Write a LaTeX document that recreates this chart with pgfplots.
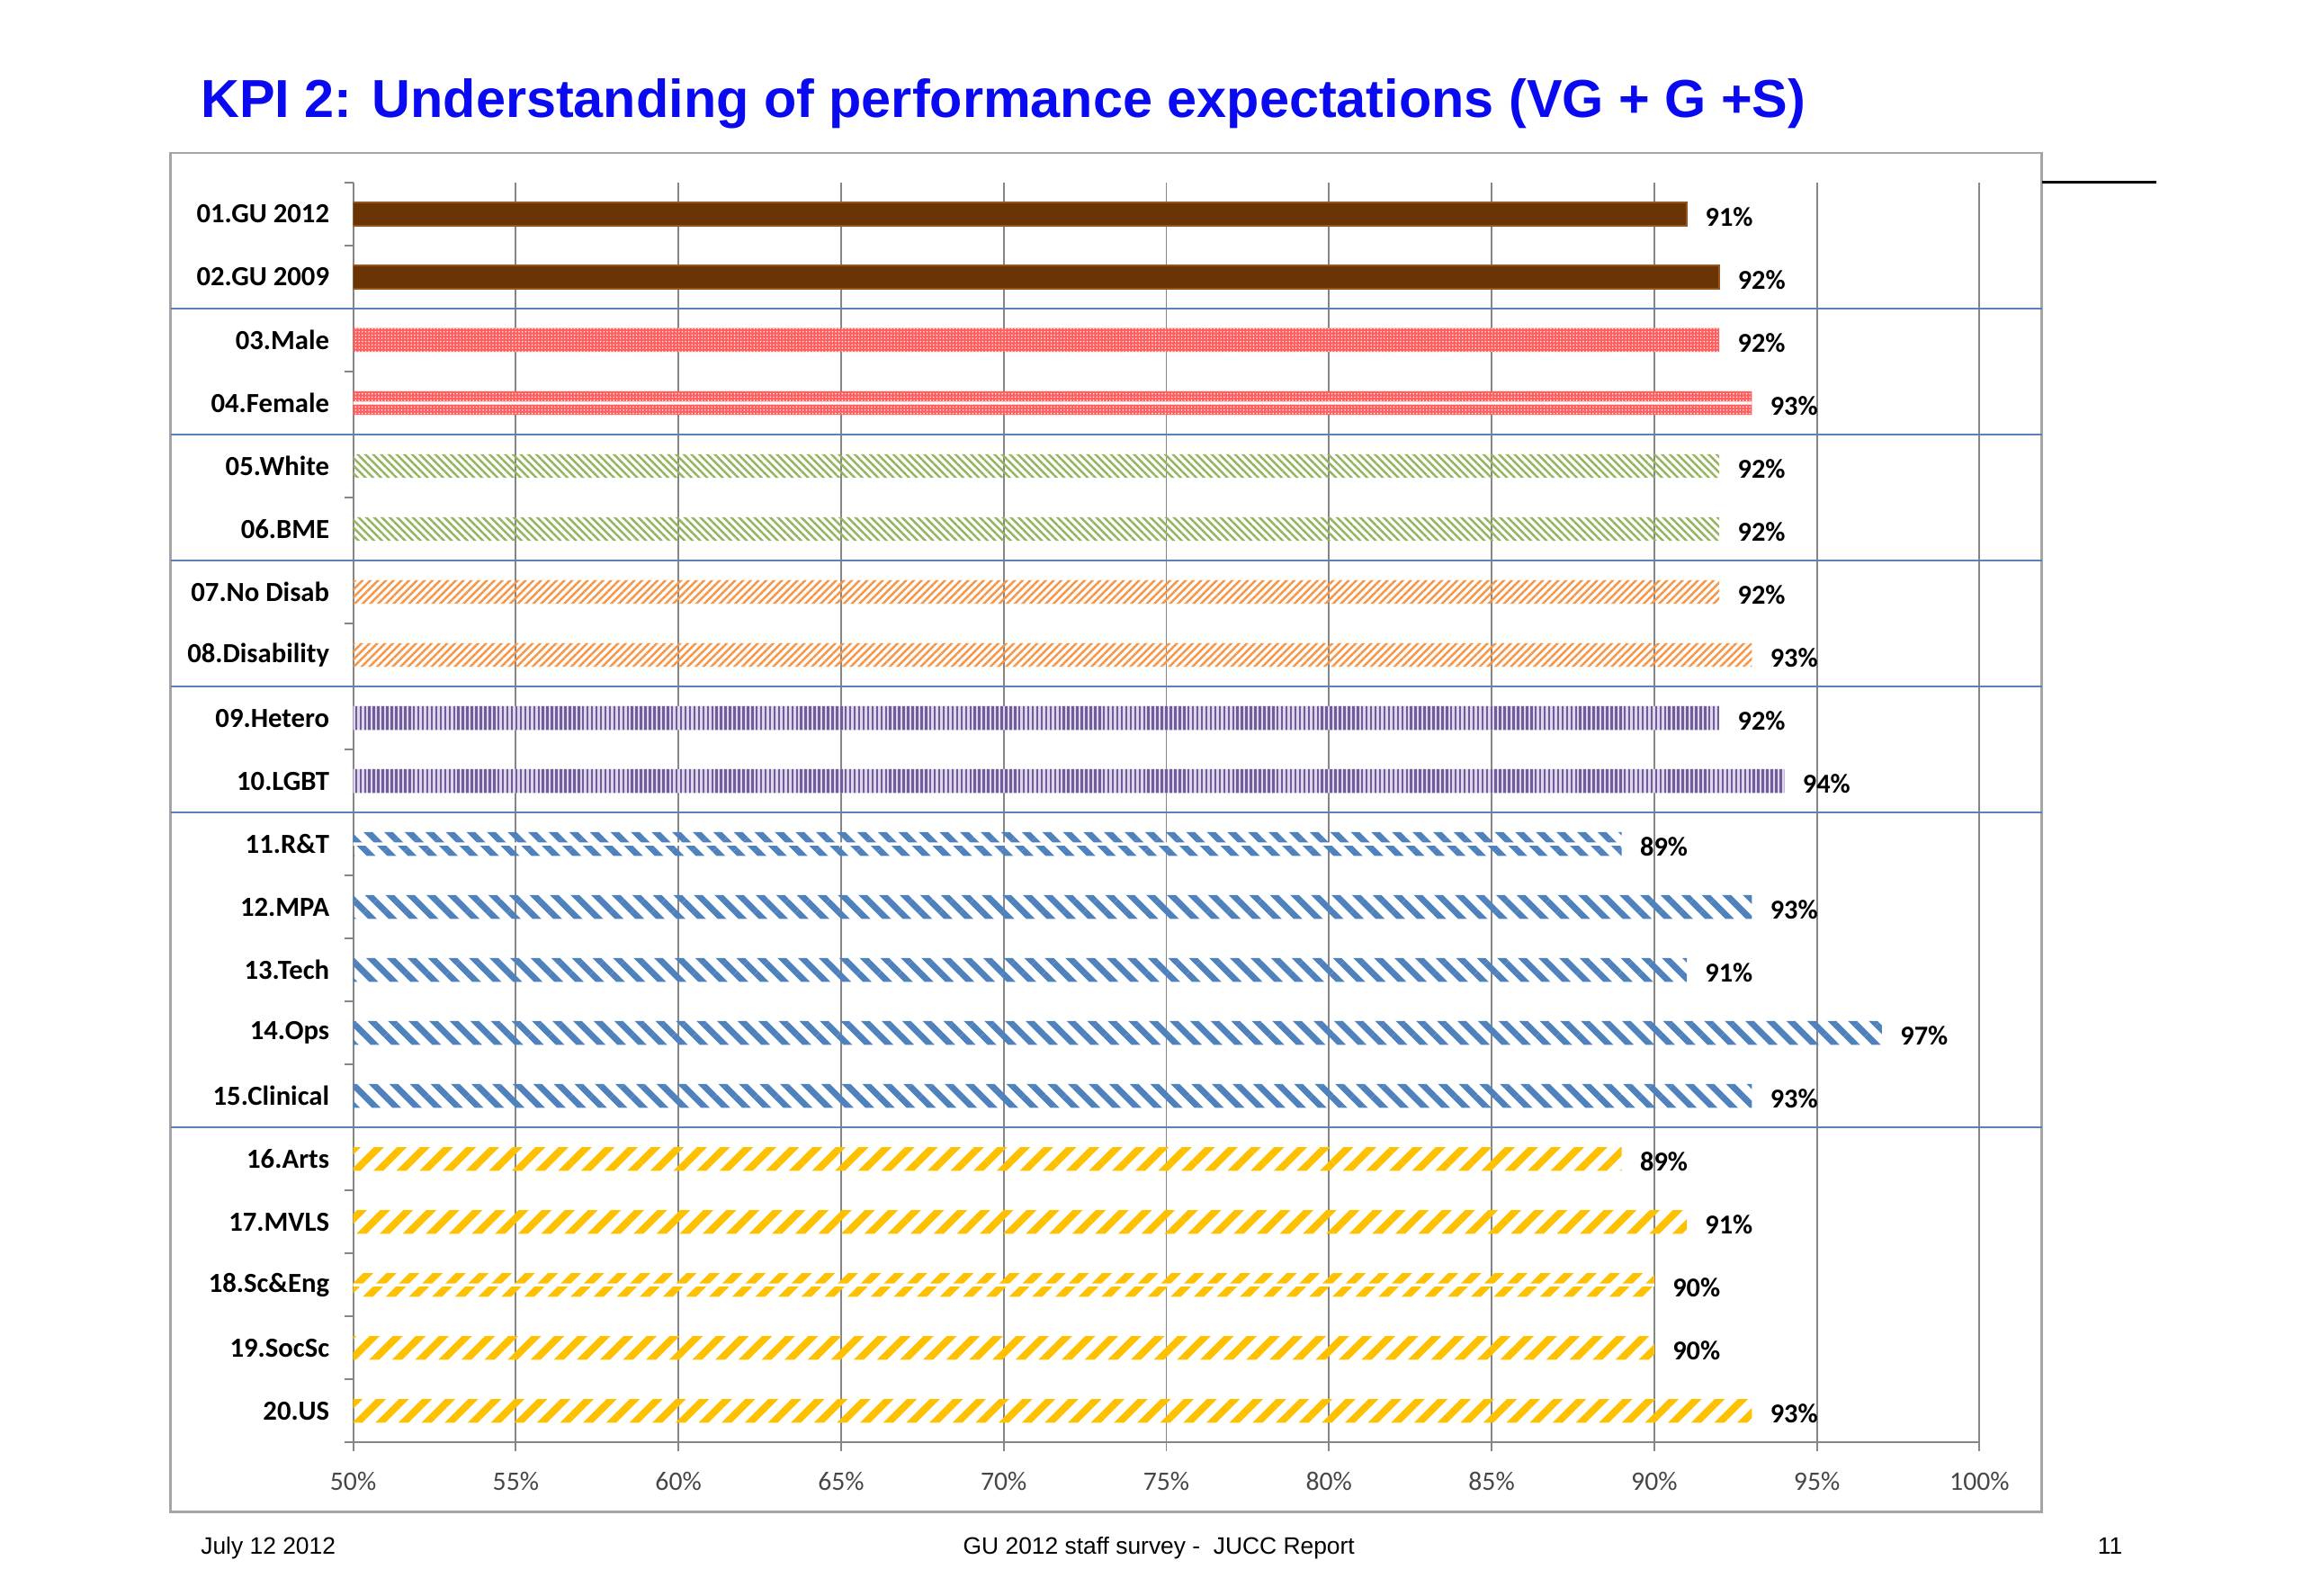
\documentclass[border=0pt]{standalone}
\usepackage{pgfplots}
\pgfplotsset{compat=1.18}
\usetikzlibrary{patterns,patterns.meta,calc}
\usepackage{fontspec}
\setmainfont{Carlito}
\newfontfamily\arialfont{Liberation Sans}
\definecolor{brownbar}{RGB}{106,52,4}
\definecolor{brownedge}{RGB}{150,85,30}
\definecolor{redbar}{RGB}{255,95,95}
\definecolor{greenbar}{RGB}{150,180,95}
\definecolor{orangebar}{RGB}{247,150,70}
\definecolor{purplebar}{RGB}{112,92,152}
\definecolor{purplebg}{RGB}{222,214,236}
\definecolor{bluebar}{RGB}{79,129,189}
\definecolor{goldbar}{RGB}{255,192,0}
\definecolor{sepblue}{RGB}{90,130,185}
\definecolor{gridgray}{RGB}{134,134,134}
\definecolor{framegray}{RGB}{165,165,165}
\definecolor{titleblue}{RGB}{10,10,240}
\definecolor{ticktext}{RGB}{70,70,70}
\pgfplotsset{vals/.style={nodes near coords={\pgfmathprintnumber{\pgfplotspointmeta}\%}, point meta=x,
  every node near coord/.append style={font=\bfseries\fontsize{9.2}{10}\selectfont, text=black, anchor=west, inner sep=0pt, xshift=6pt, yshift=-1pt}}}
\begin{document}
\begin{tikzpicture}
\path[use as bounding box] (0,0) rectangle (776pt,537.5pt);
\draw[framegray, line width=0.8pt] (57.5pt,28pt) rectangle (688pt,486pt);
\draw[black, line width=0.9pt] (688pt,476pt) -- (726.5pt,476pt);
\node[anchor=base west, inner sep=0pt, font=\arialfont\bfseries\fontsize{18}{20}\selectfont, text=titleblue] at (67.5pt,498pt) {KPI 2: Understanding of performance expectations (VG + G +S)};
\begin{axis}[
  at={(119pt,51.5pt)}, anchor=south west,
  scale only axis, width=548pt, height=424.5pt,
  xmin=50, xmax=100, ymin=0.5, ymax=20.5, y dir=reverse,
  axis x line=bottom, axis y line=left,
  axis line style={-, gridgray, line width=0.6pt},
  xtick={50,55,...,100},
  xticklabel={\pgfmathprintnumber{\tick}\%},
  xticklabel style={font=\fontsize{9}{10}\selectfont, text=ticktext, yshift=-3.5pt},
  /pgf/number format/assume math mode=true,
  xmajorgrids, major grid style={gridgray, line width=0.6pt},
  tick align=outside, major tick length=3pt,
  tick style={gridgray, line width=0.6pt},
  ytick={0.5,1.5,...,20.5}, yticklabel=\empty,
  extra y ticks={1,2,3,4,5,6,7,8,9,10,11,12,13,14,15,16,17,18,19,20},
  extra y tick labels={01.GU 2012,02.GU 2009,03.Male,04.Female,05.White,06.BME,07.No Disab,08.Disability,09.Hetero,10.LGBT,11.R\&T,12.MPA,13.Tech,14.Ops,15.Clinical,16.Arts,17.MVLS,18.Sc\&Eng,19.SocSc,20.US},
  extra y tick style={tick style={draw=none}},
  yticklabel style={font=\bfseries\fontsize{9.3}{10}\selectfont, text=black, xshift=-1.5pt},
  xbar, bar width=8pt,
  every axis plot/.append style={bar shift=0pt, draw=none},
]
\addplot[fill=brownbar, draw=brownedge, line width=0.5pt, vals] coordinates {(91,1) (92,2)};
\addplot[fill=redbar, postaction={pattern={Dots[distance=1.1pt, radius=0.25pt]}, pattern color=white}, vals] coordinates {(92,3) (93,4)};
\addplot[pattern={Lines[angle=-45, distance=1.85pt, line width=0.75pt]}, pattern color=greenbar, vals] coordinates {(92,5) (92,6)};
\addplot[pattern={Lines[angle=45, distance=1.85pt, line width=0.75pt]}, pattern color=orangebar, vals] coordinates {(92,7) (93,8)};
\addplot[fill=purplebg, postaction={pattern={Lines[angle=90, distance=1.5pt, line width=0.75pt]}, pattern color=purplebar}, vals] coordinates {(92,9) (94,10)};
\addplot[pattern={Lines[angle=-45, distance=4.9pt, line width=2.1pt]}, pattern color=bluebar, vals] coordinates {(89,11) (93,12) (91,13) (97,14) (93,15)};
\addplot[pattern={Lines[angle=45, distance=5.5pt, line width=2.4pt]}, pattern color=goldbar, vals] coordinates {(89,16) (91,17) (90,18) (90,19) (93,20)};
\addplot[fill=white, draw=none, bar width=1pt] coordinates {(93,4) (89,11) (90,18)};
\coordinate (s1) at (axis cs:50,2.5);
\coordinate (s2) at (axis cs:50,4.5);
\coordinate (s3) at (axis cs:50,6.5);
\coordinate (s4) at (axis cs:50,8.5);
\coordinate (s5) at (axis cs:50,10.5);
\coordinate (s6) at (axis cs:50,15.5);
\end{axis}
\foreach \s in {s1,s2,s3,s4,s5,s6}{
  \draw[sepblue, line width=0.7pt] let \p1=(\s) in (57.5pt,\y1) -- (688pt,\y1);
}
\node[anchor=base west, inner sep=0pt, font=\arialfont\fontsize{8}{10}\selectfont] at (67.5pt,14pt) {July 12 2012};
\node[anchor=base, inner sep=0pt, font=\arialfont\fontsize{8}{10}\selectfont] at (390.5pt,14pt) {GU 2012 staff survey -\ \ JUCC Report};
\node[anchor=base, inner sep=0pt, font=\arialfont\fontsize{8}{10}\selectfont] at (711pt,14pt) {11};
\end{tikzpicture}
\end{document}
